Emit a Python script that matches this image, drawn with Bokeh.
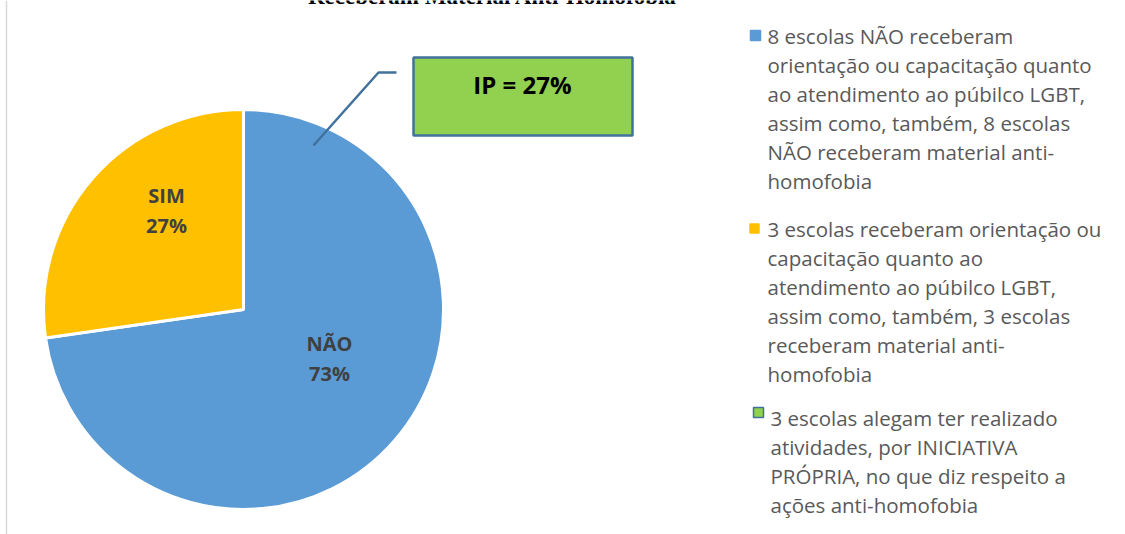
from math import pi
from bokeh.plotting import figure
from bokeh.models import Range1d, ColumnDataSource
from bokeh.core.properties import value
from bokeh.embed import file_html
from bokeh.resources import INLINE

# ---------------- data ----------------
title = "Receberam Material Anti-Homofobia"
categories = ["NÃO", "SIM"]
counts = [8, 3]
slice_colors = ["#5B9BD5", "#FFC000"]
callout_text = "IP = 27%"
legend_labels = [
    "8 escolas NÃO receberam\norientação ou capacitação quanto\nao atendimento ao púbilco LGBT,\nassim como, também, 8 escolas\nNÃO receberam material anti-\nhomofobia",
    "3 escolas receberam orientação ou\ncapacitação quanto ao\natendimento ao púbilco LGBT,\nassim como, também, 3 escolas\nreceberam material anti-\nhomofobia",
    "3 escolas alegam ter realizado\natividades, por INICIATIVA\nPRÓPRIA, no que diz respeito a\nações anti-homofobia",
]
legend_colors = ["#5B9BD5", "#FFC000", "#92D050"]
legend_borders = ["#5B9BD5", "#FFC000", "#41719C"]

# ---------------- layout ----------------
W, H = 1125, 534
def Y(v):
    return H - v

p = figure(width=W, height=H, output_backend="svg", toolbar_location=None,
           x_range=Range1d(0, W), y_range=Range1d(0, H), min_border=0,
           outline_line_color=None, background_fill_color="white")
p.axis.visible = False
p.grid.visible = False

# chart border (left edge)
p.segment(x0=[6], y0=[Y(0)], x1=[6], y1=[Y(534)], line_color="#D9D9D9", line_width=1.5)

# title (cut off at top, as in the reference)
p.text(x=[492], y=[Y(-4)], text=[title], text_font=value("Liberation Serif"),
       text_font_style="bold", text_font_size="23px", text_align="center",
       text_baseline="alphabetic", text_color="#000000")

# pie
cx, cy, R = 243, Y(309), 200
total = sum(counts)
fracs = [c / total for c in counts]
starts, ends = [], []
acc = 0.0
for f in fracs:
    starts.append(pi / 2 - 2 * pi * acc)
    acc += f
    ends.append(pi / 2 - 2 * pi * acc)
src = ColumnDataSource(dict(start=starts, end=ends, color=slice_colors))
p.wedge(x=cx, y=cy, radius=R, start_angle="start", end_angle="end", direction="clock",
        fill_color="color", line_color="white", line_width=3, source=src)

# slice labels
label_pos = [(329, 343, 373), (166, 195, 225)]
lx, ly, lt = [], [], []
for cat, f, (x, y1, y2) in zip(categories, fracs, label_pos):
    lx += [x, x]
    ly += [Y(y1), Y(y2)]
    lt += [cat, f"{round(f * 100)}%"]
p.text(x=lx, y=ly, text=lt, text_font=value("Open Sans"), text_font_style="bold",
       text_font_size="20px", text_align="center", text_baseline="middle",
       text_color="#404040")

# callout
p.line(x=[313, 378, 396], y=[Y(145), Y(72), Y(72)], line_color="#41719C", line_width=2.5)
p.quad(left=[413], right=[632], top=[Y(57)], bottom=[Y(135)], fill_color="#92D050",
       line_color="#41719C", line_width=2.5)
p.text(x=[522], y=[Y(84)], text=[callout_text], text_font=value("Open Sans"),
       text_font_style="bold", text_font_size="24px", text_align="center",
       text_baseline="middle", text_color="#000000")

# legend
entry_top = [35, 228, 417]
text_x = [767, 767, 770]
marker_pos = [(755, 35, 10), (754, 228, 9), (758, 412, 10)]
line_h = 29
tx, ty, tt = [], [], []
for lab, y0, x0 in zip(legend_labels, entry_top, text_x):
    for i, ln in enumerate(lab.split("\n")):
        tx.append(x0)
        ty.append(Y(y0 + i * line_h))
        tt.append(ln)
p.text(x=tx, y=ty, text=tt, text_font=value("Open Sans"), text_font_size="20.5px",
       text_align="left", text_baseline="middle", text_color="#595959")
p.scatter(x=[m[0] for m in marker_pos], y=[Y(m[1]) for m in marker_pos],
          size=[m[2] for m in marker_pos], marker="square",
          fill_color=legend_colors, line_color=legend_borders, line_width=1.5)

open("out.html", "w").write(file_html(p, INLINE))
